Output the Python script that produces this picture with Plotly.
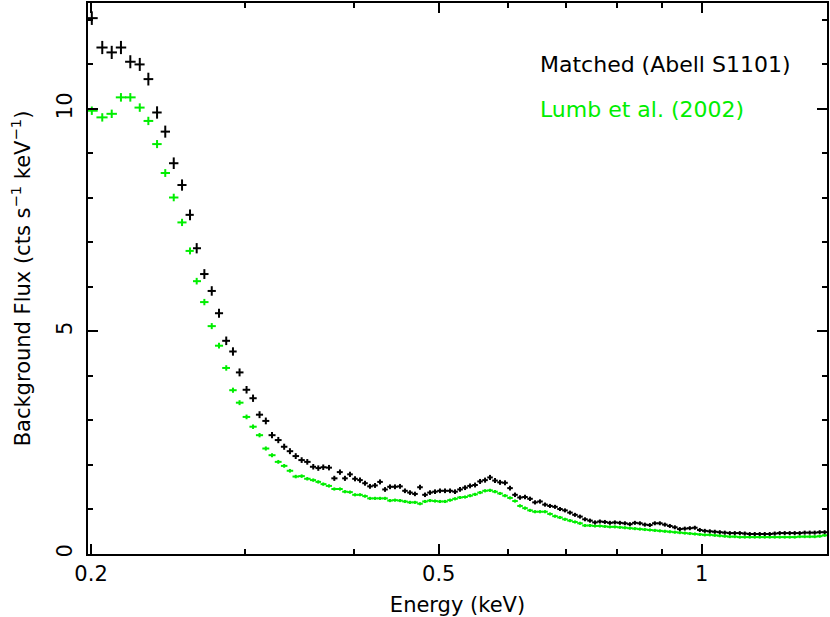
import numpy as np
import plotly.graph_objects as go

# Bin centre energies (keV)
energy = [0.2004, 0.2060, 0.2112, 0.2164, 0.2218, 0.2274, 0.2326, 0.2380, 0.2432, 0.2487,
          0.2542, 0.2596, 0.2642, 0.2696, 0.2749, 0.2802, 0.2856, 0.2907, 0.2958, 0.3013,
          0.3065, 0.3118, 0.3170, 0.3222, 0.3276, 0.3327, 0.3378, 0.3430, 0.3484, 0.3536,
          0.3592, 0.3640, 0.3688, 0.3744, 0.3797, 0.3854, 0.3905,
          0.3957, 0.4010, 0.4063, 0.4117, 0.4171, 0.4227, 0.4283, 0.4340, 0.4397, 0.4455,
          0.4515, 0.4574, 0.4635, 0.4696, 0.4759, 0.4822, 0.4886, 0.4951, 0.5016, 0.5083,
          0.5151, 0.5219, 0.5288, 0.5359, 0.5430, 0.5502, 0.5575, 0.5649, 0.5723, 0.5799,
          0.5876, 0.5954, 0.6033, 0.6113, 0.6194, 0.6276, 0.6359, 0.6444, 0.6529, 0.6616,
          0.6703, 0.6792, 0.6882, 0.6973, 0.7066, 0.7159, 0.7254, 0.7351, 0.7448, 0.7547,
          0.7645, 0.7746, 0.7849, 0.7953, 0.8059, 0.8166, 0.8274, 0.8384, 0.8495, 0.8607,
          0.8721, 0.8837, 0.8954, 0.9073, 0.9193, 0.9315, 0.9438, 0.9563, 0.9690, 0.9819,
          0.9948, 1.0080, 1.0214, 1.0349, 1.0486, 1.0625, 1.0766, 1.0909, 1.1054, 1.1200,
          1.1347, 1.1498, 1.1650, 1.1805, 1.1961, 1.2120, 1.2280, 1.2443, 1.2608, 1.2775,
          1.2944, 1.3116, 1.3290, 1.3466, 1.3644, 1.3824]

# Matched background (Abell S1101), cts/s/keV
matched = [12.04, 11.38, 11.27, 11.38, 11.06, 11.00, 10.67, 9.92, 9.49, 8.78,
           8.29, 7.62, 6.87, 6.29, 5.91, 5.41, 4.79, 4.55, 4.08, 3.69,
           3.50, 3.13, 2.99, 2.67, 2.56, 2.41, 2.31, 2.20, 2.11, 2.07,
           1.96, 1.93, 1.95, 1.94, 1.70, 1.84, 1.70,
           1.79, 1.69, 1.66, 1.59, 1.52, 1.54, 1.62, 1.45, 1.51, 1.51,
           1.52, 1.42, 1.38, 1.35, 1.50, 1.33, 1.38, 1.40, 1.42, 1.42,
           1.42, 1.40, 1.45, 1.49, 1.53, 1.55, 1.63, 1.66, 1.72, 1.65,
           1.61, 1.60, 1.48, 1.33, 1.27, 1.28, 1.24, 1.16, 1.18, 1.11,
           1.08, 1.06, 1.01, 0.98, 0.93, 0.88, 0.84, 0.78, 0.75, 0.71,
           0.73, 0.72, 0.70, 0.71, 0.70, 0.69, 0.67, 0.70, 0.69, 0.66,
           0.65, 0.69, 0.69, 0.66, 0.63, 0.60, 0.56, 0.57, 0.58, 0.59,
           0.54, 0.52, 0.51, 0.50, 0.49, 0.48, 0.47, 0.47, 0.47, 0.46,
           0.45, 0.45, 0.45, 0.45, 0.45, 0.46, 0.47, 0.47, 0.47, 0.47,
           0.47, 0.48, 0.48, 0.48, 0.49, 0.49]

# Lumb et al. (2002) background, cts/s/keV
lumb = [9.96, 9.81, 9.89, 10.26, 10.26, 10.03, 9.73, 9.21, 8.56, 8.01,
        7.45, 6.81, 6.13, 5.66, 5.12, 4.68, 4.18, 3.68, 3.40, 3.08,
        2.86, 2.67, 2.37, 2.22, 2.07, 1.98, 1.87, 1.74, 1.75, 1.69,
        1.66, 1.62, 1.57, 1.53, 1.46, 1.46, 1.40,
        1.39, 1.33, 1.33, 1.30, 1.25, 1.25, 1.25, 1.25, 1.20, 1.21,
        1.20, 1.18, 1.16, 1.16, 1.13, 1.18, 1.20, 1.19, 1.18, 1.18,
        1.21, 1.24, 1.27, 1.28, 1.31, 1.34, 1.38, 1.42, 1.43, 1.40,
        1.36, 1.31, 1.26, 1.19, 1.08, 1.03, 0.98, 0.95, 0.95, 0.95,
        0.90, 0.85, 0.82, 0.78, 0.75, 0.72, 0.69, 0.64, 0.64, 0.63,
        0.63, 0.62, 0.61, 0.61, 0.60, 0.59, 0.58, 0.57, 0.56, 0.55,
        0.54, 0.53, 0.52, 0.51, 0.50, 0.49, 0.48, 0.47, 0.46, 0.45,
        0.44, 0.43, 0.43, 0.42, 0.41, 0.40, 0.39, 0.39, 0.38, 0.38,
        0.38, 0.38, 0.38, 0.38, 0.38, 0.38, 0.38, 0.38, 0.38, 0.38,
        0.39, 0.39, 0.39, 0.39, 0.40, 0.42]

x_ticks = [0.2, 0.5, 1]
x_tick_text = ["0.2", "0.5", "1"]
x_minor = [0.3, 0.4, 0.6, 0.7, 0.8, 0.9]
y_ticks = [0, 5, 10]
y_minor = [1, 2, 3, 4, 6, 7, 8, 9, 11, 12]

BLACK = "#000000"
GREEN = "#00ee00"
FONT = "DejaVu Sans"

E = np.array(energy)
d = np.diff(E)
half_left = np.concatenate([[d[0]], d]) / 2 * 1.12
half_right = np.concatenate([d, [d[-1]]]) / 2 * 1.12


def yerr(vals, c, floor):
    v = np.array(vals)
    return np.maximum(c * np.sqrt(v), floor)


fig = go.Figure()
for vals, col, c, fl in [(lumb, GREEN, 0.03, 0.035), (matched, BLACK, 0.044, 0.045)]:
    fig.add_trace(go.Scatter(
        x=energy, y=vals, mode="markers",
        marker=dict(size=1, color=col),
        error_x=dict(type="data", symmetric=False, array=half_right, arrayminus=half_left,
                     color=col, thickness=2, width=0),
        error_y=dict(type="data", array=yerr(vals, c, fl), color=col, thickness=2, width=0),
        showlegend=False, hoverinfo="x+y",
    ))

axis_common = dict(
    showline=True, linecolor="black", linewidth=2, mirror="ticks",
    ticks="inside", ticklen=10, tickwidth=2, tickcolor="black",
    showgrid=False, zeroline=False,
    tickfont=dict(family=FONT, size=21, color="black"),
)

fig.update_xaxes(
    type="log", range=[np.log10(0.1984), np.log10(1.391)],
    tickmode="array", tickvals=x_ticks, ticktext=x_tick_text,
    minor=dict(tickmode="array", tickvals=x_minor, ticks="inside", ticklen=5,
               tickwidth=2, tickcolor="black", showgrid=False),
    title=dict(text="Energy (keV)", font=dict(family=FONT, size=21, color="black"), standoff=12),
    ticklabelstandoff=0,
    **axis_common,
)
fig.update_yaxes(
    range=[0, 12.38],
    tickmode="array", tickvals=y_ticks, ticktext=[str(v) for v in y_ticks],
    minor=dict(tickmode="array", tickvals=y_minor, ticks="inside", ticklen=5,
               tickwidth=2, tickcolor="black", showgrid=False),
    tickangle=-90,
    title=dict(text="Background Flux (cts s<sup>−1</sup> keV<sup>−1</sup>)",
               font=dict(family=FONT, size=21, color="black"), standoff=16),
    ticklabelstandoff=6,
    **axis_common,
)

fig.add_annotation(text="Matched (Abell S1101)", xref="paper", yref="paper",
                   x=(538 - 88) / 739, y=(554 - 64) / 551, xanchor="left", yanchor="middle",
                   showarrow=False, font=dict(family=FONT, size=22, color=BLACK))
fig.add_annotation(text="Lumb et al. (2002)", xref="paper", yref="paper",
                   x=(538 - 88) / 739, y=(554 - 109) / 551, xanchor="left", yanchor="middle",
                   showarrow=False, font=dict(family=FONT, size=22, color=GREEN))

fig.update_layout(
    width=830, height=617,
    margin=dict(l=88, r=3, t=3, b=63, autoexpand=False),
    plot_bgcolor="white", paper_bgcolor="white",
    font=dict(family=FONT, color="black"),
)

fig.write_html("out.html", config={"displayModeBar": False},
               post_script="document.body.style.margin='0px';")
